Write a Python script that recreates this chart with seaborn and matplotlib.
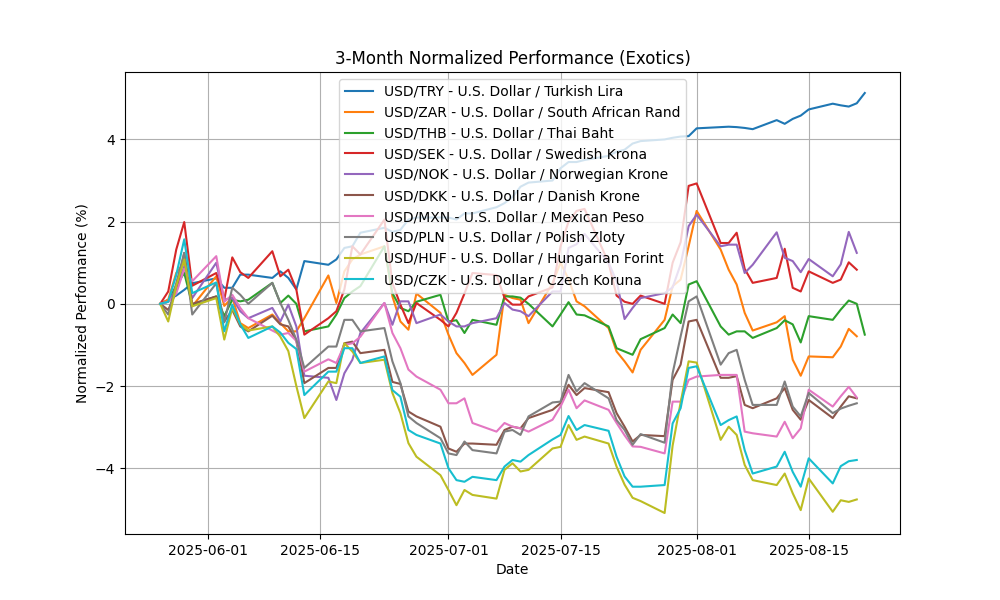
import matplotlib
matplotlib.use("Agg")
import matplotlib.pyplot as plt
import seaborn as sns
import pandas as pd
import numpy as np

dates = pd.bdate_range("2025-05-26", "2025-08-22")

labels = [
    "USD/TRY - U.S. Dollar / Turkish Lira",
    "USD/ZAR - U.S. Dollar / South African Rand",
    "USD/THB - U.S. Dollar / Thai Baht",
    "USD/SEK - U.S. Dollar / Swedish Krona",
    "USD/NOK - U.S. Dollar / Norwegian Krone",
    "USD/DKK - U.S. Dollar / Danish Krone",
    "USD/MXN - U.S. Dollar / Mexican Peso",
    "USD/PLN - U.S. Dollar / Polish Zloty",
    "USD/HUF - U.S. Dollar / Hungarian Forint",
    "USD/CZK - U.S. Dollar / Czech Koruna",
]

try_vals = [0, 0.1, 0.2, 0.34, 0.5, 0.62, 0.39, 0.39, 0.71, 0.71,
            0.63, 0.79, 0.63, 0.35, 1.04, 0.95, 1.08, 1.36, 1.4, 1.73,
            1.85, 1.75, 1.8, 2.05, 2.1, 2.1, 2.1, 2.05, 2.2, 2.2,
            2.35, 2.45, 2.6, 2.85, 2.95, 3.0, 3.3, 3.45, 3.45, 3.5,
            3.6, 3.7, 3.75, 3.9, 3.96, 4.0, 4.04, 4.07, 4.08, 4.27,
            4.3, 4.31, 4.3, 4.28, 4.25, 4.47, 4.38, 4.5, 4.58, 4.73,
            4.87, 4.83, 4.8, 4.88, 5.13]
zar_vals = [0, 0.1, 0.75, 1.0, -0.06, 0.67, -0.05, 0.15, -0.47, -0.59,
            -0.26, -0.47, -0.67, -0.67, -0.35, 0.69, 0.02, 0.79, 1.08, 1.2,
            1.4, 0.18, -0.43, -0.63, 0.25, -0.22, -0.75, -1.2, -1.44, -1.73,
            -1.24, 0.22, 0.14, 0.1, -0.47, 0.5, 1.0, 0.6, 0.06, -0.06,
            -0.59, -1.16, -1.4, -1.67, -1.12, -0.39, 0.43, 0.59, 1.4, 2.26,
            1.32, 0.83, 0.47, -0.22, -0.65, -0.45, -0.3, -1.36, -1.75, -1.28,
            -1.3, -1.04, -0.61, -0.79, np.nan]
thb_vals = [0, 0.05, 0.45, 0.75, -0.02, 0.18, -0.3, 0.1, 0.06, 0.1,
            0.51, 0.02, 0.2, 0.0, -0.67, -0.55, -0.26, 0.14, 0.3, 0.43,
            1.4, 0.26, -0.1, -0.18, 0.05, 0.22, -0.43, -0.4, -0.71, -0.39,
            -0.51, 0.18, 0.18, 0.15, 0.0, -0.55, -0.26, 0.04, -0.26, -0.28,
            -0.55, -1.08, -1.16, -1.24, -0.86, -0.59, -0.26, -0.47, 0.47, 0.55,
            -0.55, -0.75, -0.67, -0.67, -0.83, -0.59, -0.4, -0.5, -0.94, -0.3,
            -0.39, -0.14, 0.08, 0.0, -0.75]
sek_vals = [0, 0.3, 1.32, 1.99, 0.44, 0.75, 0.1, 1.13, 0.77, 0.63,
            1.28, 0.67, 0.83, 0.35, -0.75, -0.35, -0.18, 0.35, 1.4, 1.2,
            2.05, 0.5, -0.02, -0.47, 0.02, -0.39, -0.55, -0.22, 0.25, 0.75,
            0.7, 0.15, -0.02, -0.02, 0.18, 0.4, 1.4, 2.0, 2.26, 2.31,
            1.0, 0.2, 0.05, 0.0, 0.2, 0.0, 1.0, 1.5, 2.87, 2.93,
            1.48, 1.48, 1.73, 0.85, 0.51, 0.63, 1.34, 0.39, 0.3, 0.79,
            0.51, 0.59, 1.01, 0.83, np.nan]
nok_vals = [0, 0.05, 0.35, 0.91, 0.14, 1.0, 0.1, 0.14, -0.18, -0.35,
            -0.1, -0.43, -0.02, -0.55, -1.75, -1.8, -2.34, -1.69, -1.36, -0.71,
            0.02, -0.51, 0.06, 0.06, -0.47, -0.26, -0.43, -0.55, -0.55, -0.47,
            -0.35, 0.02, -0.14, -0.18, -0.3, 0.3, 0.3, 1.36, 1.45, 1.7,
            1.0, 0.55, -0.37, -0.1, 0.14, 0.26, 0.4, 0.96, 1.89, 2.17,
            1.4, 1.44, 1.44, 0.75, 0.95, 1.74, 1.12, 1.04, 0.77, 1.09,
            0.67, 0.96, 1.75, 1.24, np.nan]
dkk_vals = [0, -0.15, 0.3, 1.24, 0.0, 0.18, -0.43, -0.15, -0.55, -0.67,
            -0.29, -0.5, -0.55, -0.9, -1.93, -1.56, -1.56, -0.96, -0.92, -1.2,
            -1.12, -1.9, -1.95, -2.62, -2.74, -2.99, -3.52, -3.6, -3.4, -3.4,
            -3.43, -3.07, -2.99, -3.03, -2.78, -2.58, -2.42, -1.97, -2.22, -2.05,
            -2.15, -2.66, -2.99, -3.35, -3.19, -3.22, -1.85, -1.48, -0.43, -0.39,
            -1.8, -1.8, -1.76, -2.46, -2.54, -2.3, -2.05, -2.58, -2.82, -2.34,
            -2.78, -2.5, -2.25, -2.3, np.nan]
mxn_vals = [0, 0.05, 0.25, 0.85, 0.55, 1.16, 0.05, 0.22, -0.1, -0.35,
            -0.65, -0.75, -0.71, -0.9, -1.65, -1.35, -1.44, -1.0, -0.96, -0.8,
            0.02, -0.71, -1.08, -1.6, -1.77, -2.09, -2.42, -2.42, -2.3, -2.9,
            -3.11, -2.9, -2.99, -3.03, -3.11, -2.82, -2.5, -2.09, -2.54, -2.35,
            -2.58, -2.9, -3.2, -3.47, -3.48, -3.64, -2.38, -2.38, -1.85, -1.77,
            -1.73, -1.73, -1.73, -3.11, -3.15, -3.23, -2.87, -3.27, -3.03, -2.09,
            -2.5, -2.25, -2.02, -2.28, np.nan]
pln_vals = [0, -0.26, 0.5, 1.24, -0.26, 0.5, -0.45, 0.39, 0.22, 0.0,
            0.51, 0.02, -0.39, -0.87, -1.56, -1.04, -1.04, -0.39, -0.39, -0.67,
            -0.59, -1.4, -1.93, -2.74, -2.9, -3.27, -3.64, -3.68, -3.35, -3.56,
            -3.64, -3.11, -3.07, -3.19, -2.74, -2.4, -2.38, -1.73, -2.13, -1.93,
            -2.3, -2.83, -3.07, -3.43, -3.17, -3.38, -1.69, -0.79, 0.06, 0.18,
            -1.48, -1.2, -1.12, -1.85, -2.46, -2.46, -1.89, -2.5, -2.74, -2.17,
            -2.66, -2.55, -2.48, -2.42, np.nan]
huf_vals = [0, -0.43, 0.43, 1.08, -0.06, 0.14, -0.87, -0.1, -0.5, -0.65,
            -0.55, -0.8, -1.15, -2.0, -2.78, -1.89, -1.93, -0.96, -1.16, -1.44,
            -1.36, -2.17, -2.66, -3.39, -3.72, -4.17, -4.53, -4.9, -4.53, -4.65,
            -4.74, -4.04, -3.88, -4.08, -4.04, -3.52, -3.48, -2.95, -3.31, -3.23,
            -3.4, -3.96, -4.4, -4.72, -4.8, -5.09, -3.45, -2.4, -1.4, -1.43,
            -3.31, -2.99, -3.19, -3.92, -4.29, -4.41, -4.13, -4.61, -5.02, -4.25,
            -5.06, -4.78, -4.82, -4.76, np.nan]
czk_vals = [0, 0.05, 0.7, 1.57, 0.26, 0.52, -0.67, -0.02, -0.5, -0.83,
            -0.55, -0.7, -0.95, -1.1, -2.22, -1.65, -1.65, -1.08, -1.08, -1.44,
            -1.28, -2.1, -2.26, -3.07, -3.19, -3.4, -4.0, -4.29, -4.33, -4.21,
            -4.29, -3.96, -3.8, -3.84, -3.68, -3.3, -3.19, -2.73, -3.07, -2.95,
            -3.09, -3.72, -4.2, -4.45, -4.45, -4.41, -2.91, -2.54, -1.56, -1.52,
            -2.95, -2.83, -2.74, -3.56, -4.13, -3.96, -3.6, -4.09, -4.45, -3.76,
            -4.37, -3.95, -3.83, -3.8, np.nan]

series = [try_vals, zar_vals, thb_vals, sek_vals, nok_vals,
          dkk_vals, mxn_vals, pln_vals, huf_vals, czk_vals]

frames = []
for lab, vals in zip(labels, series):
    frames.append(pd.DataFrame({"Date": dates, "Value": vals, "Pair": lab}))
df = pd.concat(frames, ignore_index=True).dropna()

palette = sns.color_palette("tab10", len(labels))

fig, ax = plt.subplots(figsize=(10, 6), dpi=100)
sns.lineplot(data=df, x="Date", y="Value", hue="Pair", hue_order=labels,
             palette=palette, linewidth=1.5, ax=ax, sort=True)
ax.grid(True)
ax.set_title("3-Month Normalized Performance (Exotics)")
ax.set_xlabel("Date")
ax.set_ylabel("Normalized Performance (%)")
handles, labs = ax.get_legend_handles_labels()
ax.legend(handles, labs, loc="upper center")
fig.savefig("out.png", dpi=100)
